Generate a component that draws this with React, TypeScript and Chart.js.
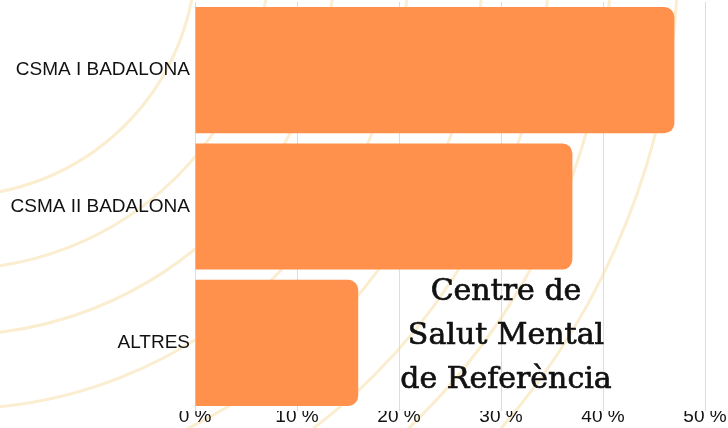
import React, { useEffect, useRef } from "react";
import { Chart, registerables } from "chart.js";

Chart.register(...registerables);

const categories = ["CSMA I BADALONA", "CSMA II BADALONA", "ALTRES"];
const percentages = [47, 37, 16];
const xMin = 0;
const xMax = 50;
const xStep = 10;
const overlayLines = ["Centre de", "Salut Mental", "de Referència"];

const backgroundArcs = {
  id: "backgroundArcs",
  beforeDraw(chart: any) {
    const ctx = chart.ctx;
    ctx.save();
    ctx.fillStyle = "#ffffff";
    ctx.fillRect(0, 0, chart.width, chart.height);
    ctx.strokeStyle = "#FBEDCF";
    ctx.lineWidth = 3;
    const radii = [242, 315, 381, 455, 529, 595, 657, 724];
    for (const r of radii) {
      ctx.beginPath();
      ctx.arc(-46, -46, r, 0, Math.PI / 2);
      ctx.stroke();
    }
    ctx.restore();
  },
};

const overlayText = {
  id: "overlayText",
  afterDraw(chart: any) {
    const ctx = chart.ctx;
    ctx.save();
    ctx.fillStyle = "#111111";
    ctx.strokeStyle = "#111111";
    ctx.lineWidth = 0.7;
    ctx.font = "30px 'DejaVu Serif'";
    ctx.textAlign = "center";
    ctx.textBaseline = "alphabetic";
    overlayLines.forEach((line, i) => {
      ctx.fillText(line, 506, 300 + i * 44);
      ctx.strokeText(line, 506, 300 + i * 44);
    });
    ctx.restore();
  },
};

export default function App() {
  const ref = useRef<HTMLCanvasElement | null>(null);

  useEffect(() => {
    if (!ref.current) return;
    const chart = new Chart(ref.current, {
      type: "bar",
      data: {
        labels: categories,
        datasets: [
          {
            data: percentages,
            backgroundColor: "#FF914D",
            borderRadius: 10,
            borderSkipped: "start",
            categoryPercentage: 1,
            barPercentage: 0.925,
          },
        ],
      },
      options: {
        indexAxis: "y",
        responsive: false,
        animation: false,
        layout: { padding: { left: 0, right: 23, top: 2, bottom: 6 } },
        plugins: {
          legend: { display: false },
          tooltip: { enabled: false },
        },
        scales: {
          x: {
            min: xMin,
            max: xMax,
            ticks: {
              stepSize: xStep,
              padding: 0,
              color: "#111111",
              font: { family: "'Liberation Sans', Arial, sans-serif", size: 19, lineHeight: 11 / 19 },
              callback: (v: any) => `${v} %`,
            },
            grid: { color: "#dddddd", drawTicks: false, lineWidth: 1 },
            border: { display: false },
          },
          y: {
            afterFit: (scale: any) => {
              scale.width = 195;
              scale.paddingTop = 0;
              scale.paddingBottom = 0;
            },
            ticks: {
              padding: 5,
              color: "#111111",
              font: { family: "'Liberation Sans', Arial, sans-serif", size: 19 },
            },
            grid: { display: false, drawTicks: false },
            border: { display: false },
          },
        },
      },
      plugins: [backgroundArcs, overlayText],
    });
    return () => chart.destroy();
  }, []);

  return (
    <div style={{ position: "absolute", left: 0, top: 0, width: 728, height: 428, overflow: "hidden" }}>
      <canvas ref={ref} width={728} height={428} />
    </div>
  );
}
